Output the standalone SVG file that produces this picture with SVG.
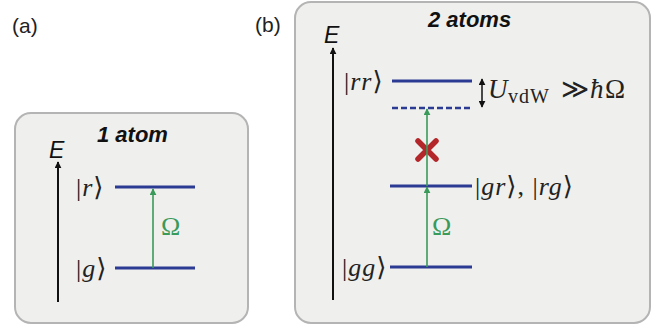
<svg xmlns="http://www.w3.org/2000/svg" width="666" height="329" viewBox="0 0 666 329">
<defs>
<style>
.box{fill:#efefed;stroke:#b4b4b4;stroke-width:2}
.lvl{stroke:#2b3a92;stroke-width:3;fill:none}
.dash{stroke:#2b3a92;stroke-width:2.5;stroke-dasharray:6 3;fill:none}
.ax{stroke:#111;stroke-width:2;fill:none}
.gr{stroke:#3a9a5a;stroke-width:1.6;fill:none}
.lab{font-family:"Liberation Sans",Arial,sans-serif;font-size:21px;fill:#222}
.ttl{font-family:"Liberation Sans",Arial,sans-serif;font-size:22px;font-weight:bold;font-style:italic;fill:#111}
.E{font-family:"Liberation Sans",Arial,sans-serif;font-size:23px;font-style:italic;fill:#111}
.ket{font-family:"Liberation Serif","DejaVu Serif",serif;font-size:26px;letter-spacing:1px;fill:#222}
.it{font-style:italic}
.om{font-family:"Liberation Serif","DejaVu Serif",serif;font-size:26px;fill:#3a9a5a}
</style>
<marker id="ah" viewBox="0 0 10 10" refX="9" refY="5" markerWidth="7" markerHeight="7" markerUnits="userSpaceOnUse" orient="auto-start-reverse">
<path d="M0,0 L10,5 L0,10 z" fill="#111"/>
</marker>
<marker id="ahg" viewBox="0 0 10 10" refX="9" refY="5" markerWidth="7" markerHeight="7" markerUnits="userSpaceOnUse" orient="auto">
<path d="M0,0 L10,5 L0,10 z" fill="#3a9a5a"/>
</marker>
</defs>
<text class="lab" x="12" y="33">(a)</text>
<text class="lab" x="255" y="32">(b)</text>
<g id="panel-a">
<rect class="box" x="15" y="113" width="233" height="210" rx="16"/>
<text class="ttl" x="97" y="142">1 atom</text>
<text class="E" x="49" y="158">E</text>
</g>
<g id="panel-b">
<rect class="box" x="295" y="2" width="355" height="321" rx="16"/>
<text class="ttl" x="428" y="27">2 atoms</text>
<text class="E" x="324" y="43">E</text>
</g>
<g id="level-r">
<line class="lvl" x1="115" y1="187" x2="195" y2="187"/>
<text class="ket" x="76" y="196">|<tspan class="it">r</tspan>⟩</text>
</g>
<g id="level-g">
<line class="lvl" x1="115" y1="268" x2="195" y2="268"/>
<text class="ket" x="76" y="277">|<tspan class="it">g</tspan>⟩</text>
</g>
<g id="level-rr">
<line class="lvl" x1="392" y1="81" x2="472" y2="81"/>
<text class="ket" x="344" y="90">|<tspan class="it">rr</tspan>⟩</text>
</g>
<g id="level-shifted">
<line class="dash" x1="392" y1="108" x2="472" y2="108"/>
</g>
<g id="level-gr">
<line class="lvl" x1="390" y1="186" x2="472" y2="186"/>
<text class="ket" x="475" y="195">|<tspan class="it">gr</tspan>⟩, |<tspan class="it">rg</tspan>⟩</text>
</g>
<g id="level-gg">
<line class="lvl" x1="390" y1="267" x2="472" y2="267"/>
<text class="ket" x="342" y="276">|<tspan class="it">gg</tspan>⟩</text>
</g>
<g id="blockade-label">
<text class="ket" y="98" style="font-size:27px;letter-spacing:0"><tspan class="it" x="488">U</tspan><tspan x="508" dy="5" style="font-size:20px;letter-spacing:1px">vdW</tspan><tspan x="561" dy="-5">≫</tspan><tspan class="it" x="590">ħ</tspan><tspan x="605">Ω</tspan></text>
</g>
<g id="blocked">
<path d="M418,141 L436,159 M436,141 L418,159" stroke="#b3262a" stroke-width="5.5" stroke-linecap="round" fill="none"/>
</g>
<g id="connectors">
<line class="ax" x1="58" y1="302" x2="58" y2="162" marker-end="url(#ah)"/>
<line class="ax" x1="333" y1="300" x2="333" y2="48" marker-end="url(#ah)"/>
<line class="gr" x1="153" y1="268" x2="153" y2="189" marker-end="url(#ahg)"/>
<line class="gr" x1="427" y1="267" x2="427" y2="187" marker-end="url(#ahg)"/>
<line class="gr" x1="427" y1="186" x2="427" y2="109" marker-end="url(#ahg)"/>
<line x1="482" y1="79" x2="482" y2="107" stroke="#111" stroke-width="1.5" marker-start="url(#ah)" marker-end="url(#ah)"/>
<text class="om" x="161" y="235">Ω</text>
<text class="om" x="432" y="235">Ω</text>
</g>
</svg>
